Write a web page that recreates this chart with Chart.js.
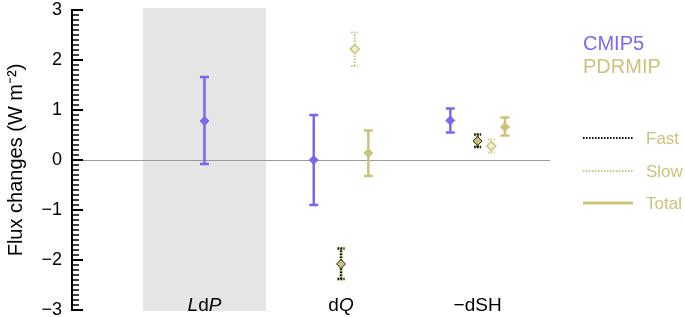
<!DOCTYPE html>
<html>
<head>
<meta charset="utf-8">
<script src="https://cdn.jsdelivr.net/npm/chart.js@4.4.1/dist/chart.umd.min.js"></script>
<style>
  html, body { margin: 0; padding: 0; background: #fff; }
</style>
</head>
<body>
<canvas id="fluxChart" width="685" height="317"></canvas>
<script>
// categories (*x* = italic letter)
const categories = ['*L*d*P*', 'd*Q*', '\u2212dSH'];

// CMIP5 multi-model mean and range
const cmip5Mean = [0.78, 0.00, 0.79];
const cmip5Low  = [-0.08, -0.90, 0.55];
const cmip5High = [1.66, 0.90, 1.03];

// PDRMIP fast / slow / total responses (no LdP value)
const fastMean  = [null, -2.08, 0.38];
const fastLow   = [null, -2.38, 0.26];
const fastHigh  = [null, -1.77, 0.51];

const slowMean  = [null, 2.22, 0.28];
const slowLow   = [null, 1.88, 0.15];
const slowHigh  = [null, 2.55, 0.41];

const totalMean = [null, 0.14, 0.66];
const totalLow  = [null, -0.32, 0.49];
const totalHigh = [null, 0.59, 0.85];

const yMin = -3, yMax = 3;

const purple = '#7b68ee';
const khaki = '#cbc37c';
const font = '"Liberation Sans", Arial, Helvetica, sans-serif';

function buildPoints(mean, low, high, offset) {
    const pts = [];
    mean.forEach((m, i) => {
        if (m === null) return;
        const off = typeof offset === 'function' ? offset(i) : offset;
        pts.push({ x: i + 1 + off, y: m, low: low[i], high: high[i] });
    });
    return pts;
}

// CMIP5 sits left of the PDRMIP points when both exist
const cmip5Offset = i => (totalMean[i] === null ? 0 : -0.2);

const fluxPlugin = {
    id: 'fluxPlugin',
    beforeDraw(chart) {
        const { ctx, chartArea: a, scales: { x } } = chart;
        // shaded LdP column
        const x0 = x.getPixelForValue(0.55), x1 = x.getPixelForValue(1.45);
        ctx.save();
        ctx.fillStyle = '#e5e5e5';
        ctx.fillRect(x0, a.top - 2, x1 - x0, a.bottom - a.top + 3);
        ctx.restore();
    },
    beforeDatasetsDraw(chart) {
        const { ctx, scales: { x, y } } = chart;
        ctx.save();
        chart.data.datasets.forEach(ds => {
            ds.data.forEach(p => {
                const px = x.getPixelForValue(p.x);
                const yl = y.getPixelForValue(p.low);
                const yh = y.getPixelForValue(p.high);
                const c = ds.capHalf;
                const strokeBar = (color, width, dash) => {
                    ctx.strokeStyle = color;
                    ctx.lineWidth = width;
                    ctx.setLineDash(dash);
                    ctx.beginPath();
                    ctx.moveTo(px, yl); ctx.lineTo(px, yh);
                    ctx.moveTo(px - c, yl); ctx.lineTo(px + c, yl);
                    ctx.moveTo(px - c, yh); ctx.lineTo(px + c, yh);
                    ctx.stroke();
                };
                strokeBar(ds.barColor, ds.barWidth, ds.barDash);
                if (ds.overDash) strokeBar('#111', ds.barWidth, ds.overDash);
            });
        });
        ctx.restore();
    },
    afterDraw(chart) {
        const { ctx, chartArea: a, scales: { x, y } } = chart;
        ctx.save();

        // y axis line with inward ticks, minor every 0.1
        ctx.strokeStyle = '#000';
        ctx.lineWidth = 2;
        ctx.beginPath();
        ctx.moveTo(a.left, y.getPixelForValue(yMax) - 1);
        ctx.lineTo(a.left, y.getPixelForValue(yMin) + 1);
        ctx.stroke();
        for (let k = yMin * 10; k <= yMax * 10; k++) {
            const major = k % 10 === 0;
            const py = Math.round(y.getPixelForValue(k / 10));
            ctx.lineWidth = major ? 2 : 1.5;
            ctx.beginPath();
            ctx.moveTo(a.left, py);
            ctx.lineTo(a.left + (major ? 11 : 7), py);
            ctx.stroke();
        }

        // category labels with italic letters
        ctx.fillStyle = '#000';
        ctx.textBaseline = 'alphabetic';
        ctx.textAlign = 'left';
        categories.forEach((cat, i) => {
            const parts = cat.split('*').map((s, k) => ({ s, it: k % 2 === 1 })).filter(p => p.s);
            let w = 0;
            parts.forEach(p => {
                ctx.font = (p.it ? 'italic ' : '') + '19px ' + font;
                p.w = ctx.measureText(p.s).width;
                w += p.w;
            });
            let px = x.getPixelForValue(i + 1) - w / 2;
            parts.forEach(p => {
                ctx.font = (p.it ? 'italic ' : '') + '19px ' + font;
                ctx.fillText(p.s, px, a.bottom + 1);
                px += p.w;
            });
        });

        // legend
        const lx = a.right + 33;
        ctx.font = '20px ' + font;
        ctx.fillStyle = purple;
        ctx.fillText('CMIP5', lx, 50);
        ctx.fillStyle = khaki;
        ctx.fillText('PDRMIP', lx, 73);

        const items = [
            { label: 'Fast', y: 138, dash: [1.5, 1.5], over: [1.5, 1.5], width: 2 },
            { label: 'Slow', y: 171, dash: [1.5, 1.5], over: null, width: 2 },
            { label: 'Total', y: 203, dash: [], over: null, width: 3 }
        ];
        ctx.font = '17px ' + font;
        ctx.textBaseline = 'middle';
        items.forEach(it => {
            ctx.lineWidth = it.width;
            ctx.strokeStyle = khaki;
            ctx.setLineDash(it.dash);
            ctx.beginPath();
            ctx.moveTo(lx, it.y); ctx.lineTo(lx + 50, it.y);
            ctx.stroke();
            if (it.over) {
                ctx.strokeStyle = '#111';
                ctx.setLineDash(it.over);
                ctx.beginPath();
                ctx.moveTo(lx, it.y); ctx.lineTo(lx + 50, it.y);
                ctx.stroke();
            }
            ctx.setLineDash([]);
            ctx.fillStyle = khaki;
            ctx.fillText(it.label, lx + 63, it.y + 1);
        });
        ctx.restore();
    }
};

const ctx = document.getElementById('fluxChart').getContext('2d');
const fluxChart = new Chart(ctx, {
    type: 'scatter',
    data: {
        datasets: [
            {
                label: 'CMIP5',
                data: buildPoints(cmip5Mean, cmip5Low, cmip5High, cmip5Offset),
                pointStyle: 'rectRot', pointRadius: 4.5,
                backgroundColor: purple, borderColor: purple, borderWidth: 1,
                barColor: purple, barWidth: 2.5, barDash: [], capHalf: 4.5
            },
            {
                label: 'Fast',
                data: buildPoints(fastMean, fastLow, fastHigh, 0),
                pointStyle: 'rectRot', pointRadius: 4.5,
                backgroundColor: khaki, borderColor: '#222', borderWidth: 1,
                barColor: khaki, barWidth: 2.5, barDash: [], overDash: [1.5, 1.5], capHalf: 3.5
            },
            {
                label: 'Slow',
                data: buildPoints(slowMean, slowLow, slowHigh, 0.1),
                pointStyle: 'rectRot', pointRadius: 4.5,
                backgroundColor: '#f1eed6', borderColor: khaki, borderWidth: 1.5,
                barColor: khaki, barWidth: 2, barDash: [1.5, 1.5], capHalf: 3.5
            },
            {
                label: 'Total',
                data: buildPoints(totalMean, totalLow, totalHigh, 0.2),
                pointStyle: 'rectRot', pointRadius: 4.5,
                backgroundColor: khaki, borderColor: khaki, borderWidth: 1,
                barColor: khaki, barWidth: 2.5, barDash: [], capHalf: 4.5
            }
        ]
    },
    options: {
        responsive: false,
        animation: false,
        devicePixelRatio: 1,
        layout: { padding: { left: 0, right: 135, top: 10, bottom: 7 } },
        plugins: { legend: { display: false }, tooltip: { enabled: false } },
        scales: {
            x: { type: 'linear', display: false, min: 0.03, max: 3.53 },
            y: {
                min: yMin, max: yMax,
                afterFit: scale => {
                    scale.width = 72;
                    scale.paddingTop = 0;
                    scale.paddingBottom = 0;
                },
                border: { display: false },
                grid: {
                    drawTicks: false,
                    lineWidth: 1,
                    color: c => (Math.abs(c.tick.value) < 1e-6 ? '#9a9a9a' : 'rgba(0,0,0,0)')
                },
                ticks: {
                    stepSize: 1,
                    autoSkip: false,
                    padding: 10,
                    color: '#000',
                    font: { family: font, size: 18, lineHeight: 0.8 },
                    callback: v => (v < 0 ? '\u2212' + (-v) : String(v))
                },
                title: {
                    display: true,
                    text: 'Flux changes (W m\u207B\u00B2)',
                    color: '#000',
                    font: { family: font, size: 20 },
                    padding: { top: 4, bottom: 0 }
                }
            }
        }
    },
    plugins: [fluxPlugin]
});
</script>
</body>
</html>
